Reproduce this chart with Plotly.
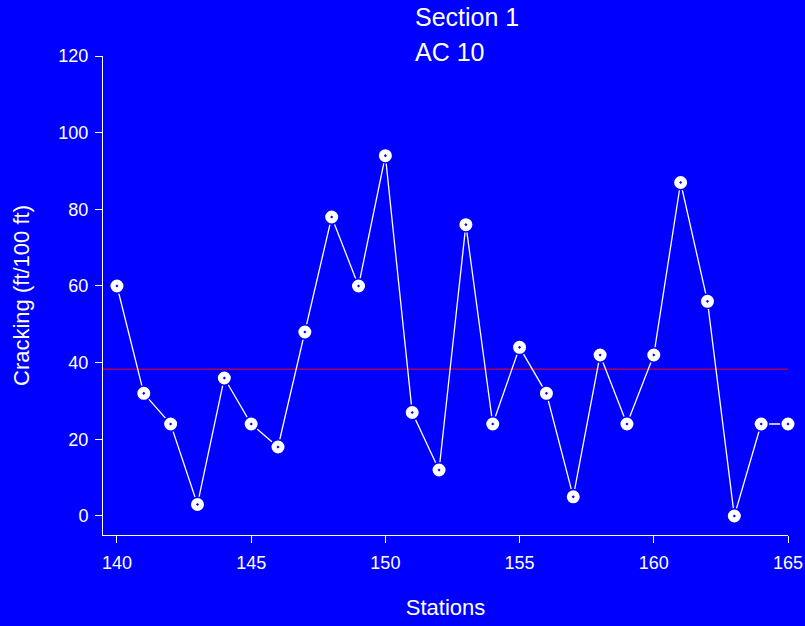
import plotly.graph_objects as go

stations = [140, 141, 142, 143, 144, 145, 146, 147, 148, 149, 150, 151, 152,
            153, 154, 155, 156, 157, 158, 159, 160, 161, 162, 163, 164, 165]
cracking = [60, 32, 24, 3, 36, 24, 18, 48, 78, 60, 94, 27, 12,
            76, 24, 44, 32, 5, 42, 24, 42, 87, 56, 0, 24, 24]
x_ticks = [140, 145, 150, 155, 160, 165]
y_ticks = [0, 20, 40, 60, 80, 100, 120]
title_lines = ["Section 1", "AC 10"]
mean_val = sum(cracking) / len(cracking)

BLUE = "#0000FF"
FONT = "Liberation Sans, Arial, sans-serif"

fig = go.Figure()
fig.add_trace(go.Scatter(
    x=stations, y=cracking, mode="lines+markers",
    line=dict(color="white", width=1.3),
    marker=dict(symbol="circle-dot", size=14.5, color="white",
                line=dict(color=BLUE, width=1.5)),
    cliponaxis=False, showlegend=False, hoverinfo="x+y"))

fig.add_shape(type="line", xref="paper", x0=0, x1=1, yref="y",
              y0=mean_val, y1=mean_val, line=dict(color="#FF0000", width=1),
              layer="below")

fig.add_annotation(text=title_lines[0], xref="paper", yref="paper",
                   x=(413 - 103) / 685, y=1 + (56 - 17) / 479,
                   xanchor="left", yanchor="middle", showarrow=False,
                   font=dict(size=25, color="white", family=FONT))
fig.add_annotation(text=title_lines[1], xref="paper", yref="paper",
                   x=(413 - 103) / 685, y=1 + (56 - 52) / 479,
                   xanchor="left", yanchor="middle", showarrow=False,
                   font=dict(size=25, color="white", family=FONT))

fig.update_layout(
    width=805, height=626,
    margin=dict(l=103, r=17, t=56, b=91),
    paper_bgcolor=BLUE, plot_bgcolor=BLUE,
    font=dict(family=FONT, color="white", size=18),
    xaxis=dict(range=[139.48, 165], tickvals=x_ticks, showgrid=False,
               automargin=False,
               zeroline=False, showline=True, linecolor="white", linewidth=1,
               ticks="outside", ticklen=7, tickcolor="white", tickwidth=1,
               ticklabelstandoff=4,
               tickfont=dict(size=18, color="white"),
               title=dict(text="Stations", font=dict(size=22, color="white"),
                          standoff=28)),
    yaxis=dict(range=[-4.96, 120], tickvals=y_ticks, showgrid=False,
               automargin=False,
               zeroline=False, showline=True, linecolor="white", linewidth=1,
               ticks="outside", ticklen=7, tickcolor="white", tickwidth=1,
               ticklabelstandoff=3,
               tickfont=dict(size=18, color="white"),
               title=dict(text="Cracking (ft/100 ft)",
                          font=dict(size=22, color="white"), standoff=22)),
)

fig.write_html("out.html",
               config={"displayModeBar": False},
               post_script="document.body.style.margin='0';"
                           "document.body.style.background='#0000FF';"
                           "document.body.style.overflow='hidden';")
